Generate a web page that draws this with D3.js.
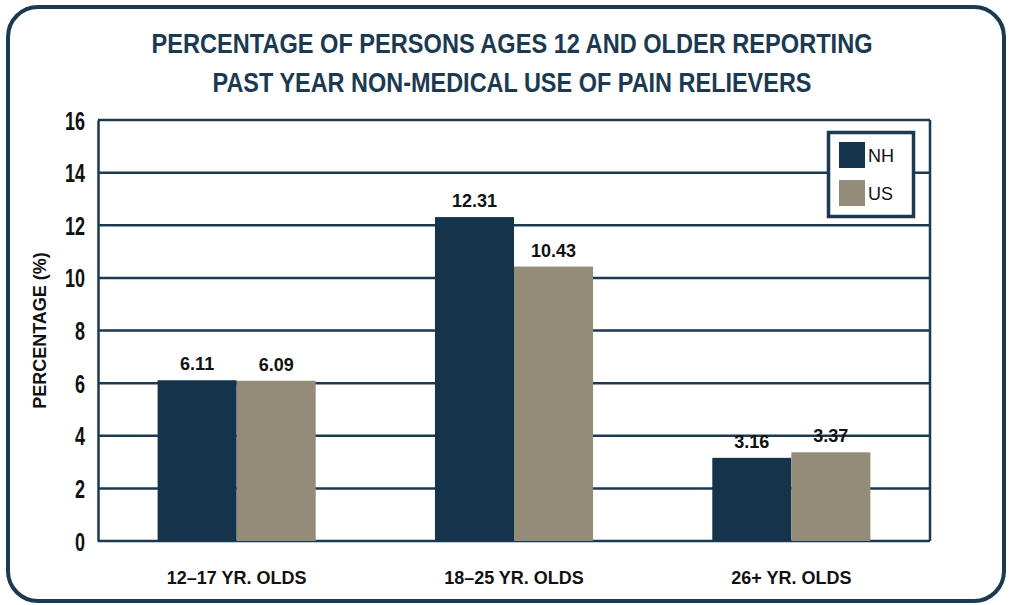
<!DOCTYPE html>
<html>
<head>
<meta charset="utf-8">
<script src="https://cdn.jsdelivr.net/npm/d3@7"></script>
<style>
  body { margin: 0; background: #fff; }
  svg text { font-family: "Liberation Sans Narrow", "Liberation Sans", Arial, sans-serif; }
</style>
</head>
<body>
<div id="chart"></div>
<script>
// chart data
var categories = ["12–17 YR. OLDS", "18–25 YR. OLDS", "26+ YR. OLDS"];
var seriesNames = ["NH", "US"];
var nhValues = [6.11, 12.31, 3.16];
var usValues = [6.09, 10.43, 3.37];
var valueLabels = [["6.11", "6.09"], ["12.31", "10.43"], ["3.16", "3.37"]];
var yTicks = [0, 2, 4, 6, 8, 10, 12, 14, 16];

var W = 1011, H = 605;
var dark = "#1b3a52";
var colors = { NH: "#15344b", US: "#948b79" };

var margin = {top: 120, right: 81, bottom: 64, left: 98};
var width = W - margin.left - margin.right,
    height = H - margin.top - margin.bottom;

var svg = d3.select("#chart").append("svg")
    .attr("width", W)
    .attr("height", H);

// rounded frame
svg.append("rect")
    .attr("x", 8).attr("y", 7)
    .attr("width", 996).attr("height", 594)
    .attr("rx", 30).attr("ry", 30)
    .attr("fill", "#fff")
    .attr("stroke", dark)
    .attr("stroke-width", 4);

// title
var titleLines = ["PERCENTAGE OF PERSONS AGES 12 AND OLDER REPORTING", "PAST YEAR NON-MEDICAL USE OF PAIN RELIEVERS"];
var titleWidths = [721, 599];
titleLines.forEach(function(t, i) {
    svg.append("text")
        .attr("x", 512).attr("y", 53 + i * 39)
        .attr("text-anchor", "middle")
        .attr("font-size", 27)
        .attr("font-weight", "bold")
        .attr("fill", dark)
        .attr("textLength", titleWidths[i])
        .attr("lengthAdjust", "spacingAndGlyphs")
        .text(t);
});

var g = svg.append("g")
    .attr("transform", "translate(" + margin.left + "," + margin.top + ")");

var x0 = d3.scaleBand()
    .domain(categories)
    .range([0, width])
    .paddingInner(0.43)
    .paddingOuter(0.215);

var x1 = d3.scaleBand()
    .domain(seriesNames)
    .range([0, x0.bandwidth()]);

var y = d3.scaleLinear()
    .domain([0, 16])
    .range([height, 0]);

// gridlines
g.selectAll(".grid")
    .data(yTicks)
    .enter()
    .append("line")
    .attr("x1", 0).attr("x2", width)
    .attr("y1", function(d) { return y(d); })
    .attr("y2", function(d) { return y(d); })
    .attr("stroke", dark)
    .attr("stroke-width", 2.5);

// right border
g.append("line")
    .attr("x1", width).attr("x2", width)
    .attr("y1", 0).attr("y2", height)
    .attr("stroke", dark).attr("stroke-width", 2.5);

// y axis
var yAxis = g.append("g")
    .call(d3.axisLeft(y).tickValues(yTicks).tickSize(0).tickPadding(14));
yAxis.select(".domain").attr("stroke", dark).attr("stroke-width", 2.5);
yAxis.selectAll("text")
    .attr("font-family", "'Liberation Sans Narrow', 'Liberation Sans', sans-serif")
    .attr("font-size", 25)
    .attr("font-weight", "bold")
    .attr("fill", "#111")
    .attr("dy", "0.36em")
    .attr("x", -13 / 0.72)
    .attr("transform", "scale(0.72,1)");

// bars
var groups = g.selectAll(".group")
    .data(categories)
    .enter()
    .append("g")
    .attr("transform", function(d) { return "translate(" + x0(d) + ",0)"; });

groups.selectAll("rect")
    .data(function(d, i) {
        return [{k: "NH", v: nhValues[i], l: valueLabels[i][0]}, {k: "US", v: usValues[i], l: valueLabels[i][1]}];
    })
    .enter()
    .append("rect")
    .attr("x", function(d) { return x1(d.k); })
    .attr("y", function(d) { return y(d.v); })
    .attr("width", x1.bandwidth())
    .attr("height", function(d) { return height - y(d.v); })
    .attr("fill", function(d) { return colors[d.k]; });

groups.selectAll(".val")
    .data(function(d, i) {
        return [{k: "NH", v: nhValues[i], l: valueLabels[i][0]}, {k: "US", v: usValues[i], l: valueLabels[i][1]}];
    })
    .enter()
    .append("text")
    .attr("x", function(d) { return x1(d.k) + x1.bandwidth() / 2; })
    .attr("y", function(d) { return y(d.v) - 10; })
    .attr("text-anchor", "middle")
    .attr("font-size", 18)
    .attr("font-weight", "bold")
    .attr("fill", "#111")
    .text(function(d) { return d.l; });

// x axis labels
var xAxis = g.append("g")
    .attr("transform", "translate(0," + height + ")")
    .call(d3.axisBottom(x0).tickSize(0).tickPadding(30));
xAxis.select(".domain").remove();
xAxis.selectAll("text")
    .attr("font-family", "'Liberation Sans Narrow', 'Liberation Sans', sans-serif")
    .attr("font-size", 18)
    .attr("font-weight", "bold")
    .attr("fill", "#111");

// y axis title
svg.append("text")
    .attr("transform", "translate(46," + (margin.top + height / 2) + ") rotate(-90)")
    .attr("text-anchor", "middle")
    .attr("font-size", 18)
    .attr("font-weight", "bold")
    .attr("fill", "#111")
    .text("PERCENTAGE (%)");

// legend
var legend = svg.append("g").attr("transform", "translate(827,131)");
legend.append("rect")
    .attr("x", 1.5).attr("y", 1.5)
    .attr("width", 85).attr("height", 84)
    .attr("fill", "#fff")
    .attr("stroke", dark)
    .attr("stroke-width", 3.5);
seriesNames.forEach(function(s, i) {
    legend.append("rect")
        .attr("x", 12).attr("y", 11 + i * 38)
        .attr("width", 26).attr("height", 26)
        .attr("fill", colors[s]);
    legend.append("text")
        .attr("x", 41).attr("y", 31 + i * 38)
        .attr("font-family", "'Liberation Sans', Arial, sans-serif")
        .attr("font-size", 18)
        .attr("fill", "#111")
        .text(s);
});
</script>
</body>
</html>
